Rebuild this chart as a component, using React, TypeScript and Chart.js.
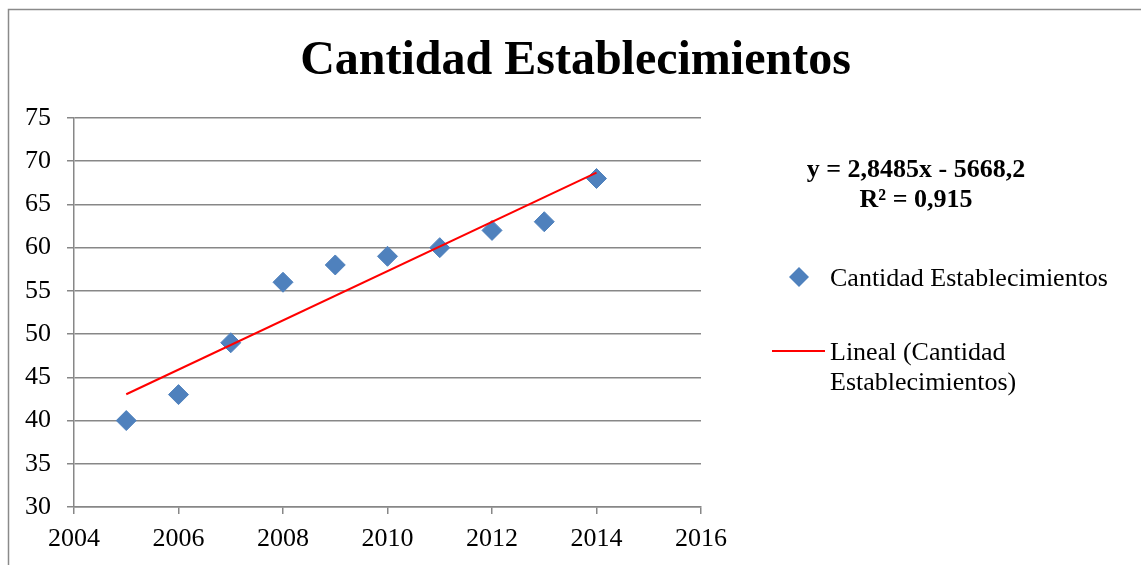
import React, { useEffect, useRef } from "react";
import { Chart, registerables } from "chart.js";

Chart.register(...registerables);

const TITLE = "Cantidad Establecimientos";
const SERIES_NAME = "Cantidad Establecimientos";
const TREND_NAME_LINES = ["Lineal (Cantidad", "Establecimientos)"];
const EQUATION_LINES = ["y = 2,8485x - 5668,2", "R² = 0,915"];

const years = [2005, 2006, 2007, 2008, 2009, 2010, 2011, 2012, 2013, 2014];
const counts = [40, 43, 49, 56, 58, 59, 60, 62, 63, 68];

// trendline end points as shown in the picture (y = 2,8485x - 5668,2)
const trendX = [2005, 2014];
const trendY = [43.04, 68.68];

const X_MIN = 2004;
const X_MAX = 2016;
const X_STEP = 2;
const Y_MIN = 30;
const Y_MAX = 75;
const Y_STEP = 5;

const FONT = "'Liberation Serif', 'Times New Roman', serif";
const GRID = "#878787";
const BLUE = "#4F81BD";
const RED = "#FF0000";

const overlay = {
  id: "overlay",
  afterDraw(chart: any) {
    const ctx = chart.ctx as CanvasRenderingContext2D;
    ctx.save();
    // frame
    ctx.strokeStyle = "#8a8a8a";
    ctx.lineWidth = 1.5;
    ctx.strokeRect(8.5, 9.5, 1160, 580);

    // equation
    ctx.fillStyle = "#000";
    ctx.font = `bold 26px ${FONT}`;
    ctx.textAlign = "center";
    ctx.textBaseline = "alphabetic";
    ctx.fillText(EQUATION_LINES[0], 916, 177);
    ctx.fillText(EQUATION_LINES[1], 916, 207);

    // legend: series
    const dx = 799, dy = 277, r = 10;
    ctx.fillStyle = BLUE;
    ctx.beginPath();
    ctx.moveTo(dx, dy - r);
    ctx.lineTo(dx + r, dy);
    ctx.lineTo(dx, dy + r);
    ctx.lineTo(dx - r, dy);
    ctx.closePath();
    ctx.fill();

    ctx.fillStyle = "#000";
    ctx.font = `26px ${FONT}`;
    ctx.textAlign = "left";
    ctx.textBaseline = "alphabetic";
    ctx.fillText(SERIES_NAME, 830, 286);

    // legend: trend
    ctx.strokeStyle = RED;
    ctx.lineWidth = 2;
    ctx.beginPath();
    ctx.moveTo(772, 351);
    ctx.lineTo(825, 351);
    ctx.stroke();
    ctx.fillText(TREND_NAME_LINES[0], 830, 360);
    ctx.fillText(TREND_NAME_LINES[1], 830, 390);
    ctx.restore();
  },
};

export default function App() {
  const ref = useRef<HTMLCanvasElement | null>(null);

  useEffect(() => {
    if (!ref.current) return;
    const chart = new Chart(ref.current, {
      type: "scatter",
      data: {
        datasets: [
          {
            label: SERIES_NAME,
            data: years.map((x, i) => ({ x, y: counts[i] })),
            backgroundColor: BLUE,
            borderColor: BLUE,
            borderWidth: 1,
            pointStyle: "rectRot",
            pointRadius: 10,
            order: 1,
          },
          {
            label: TREND_NAME_LINES.join(" "),
            type: "line",
            data: trendX.map((x, i) => ({ x, y: trendY[i] })),
            borderColor: RED,
            borderWidth: 2,
            pointRadius: 0,
            showLine: true,
            fill: false,
            order: 0,
          } as any,
        ],
      },
      options: {
        responsive: false,
        animation: false,
        layout: { padding: { left: 10, right: 0, top: 0, bottom: 0 } },
        plugins: {
          legend: { display: false },
          tooltip: { enabled: false },
          title: {
            display: true,
            text: TITLE,
            color: "#000",
            font: { family: FONT, size: 48, weight: "bold", lineHeight: 1.2 },
            padding: { top: 33, bottom: 27.4 },
          },
        },
        scales: {
          x: {
            type: "linear",
            position: "bottom",
            min: X_MIN,
            max: X_MAX,
            afterFit: (s: any) => {
              s.height = 58;
            },
            afterBuildTicks: (s: any) => {
              const t = [];
              for (let v = X_MIN; v <= X_MAX; v += X_STEP) t.push({ value: v });
              s.ticks = t;
            },
            ticks: {
              color: "#000",
              font: { family: FONT, size: 26 },
              padding: 10,
              maxRotation: 0,
              autoSkip: false,
              callback: (v: any) => String(v),
            },
            grid: {
              display: true,
              drawOnChartArea: false,
              drawTicks: true,
              tickLength: 7,
              color: GRID,
              lineWidth: 1.5,
            },
            border: { display: true, color: GRID, width: 1.5 },
          },
          y: {
            type: "linear",
            position: "left",
            min: Y_MIN,
            max: Y_MAX,
            afterFit: (s: any) => {
              s.width = 64;
            },
            ticks: {
              stepSize: Y_STEP,
              color: "#000",
              font: { family: FONT, size: 26 },
              padding: 16,
            },
            grid: {
              display: true,
              drawOnChartArea: true,
              drawTicks: true,
              tickLength: 7,
              color: GRID,
              lineWidth: 1.5,
            },
            border: { display: true, color: GRID, width: 1.5 },
          },
          yRight: {
            type: "linear",
            position: "right",
            min: 0,
            max: 1,
            display: true,
            afterFit: (s: any) => {
              s.width = 440;
            },
            ticks: { display: false },
            grid: { display: false, drawTicks: false },
            border: { display: false },
          },
        },
      } as any,
      plugins: [overlay],
    });
    return () => chart.destroy();
  }, []);

  return (
    <canvas
      ref={ref}
      width={1141}
      height={565}
      style={{ position: "absolute", left: 0, top: 0, display: "block", background: "#fff" }}
    />
  );
}
